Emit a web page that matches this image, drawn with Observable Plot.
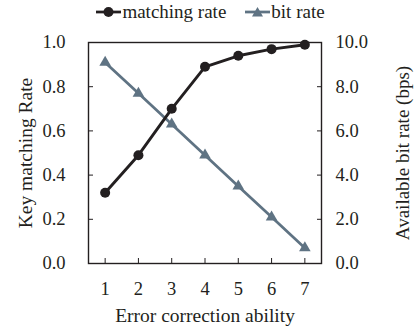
<!DOCTYPE html>
<html>
<head>
<meta charset="utf-8">
<script src="https://cdn.jsdelivr.net/npm/d3@7"></script>
<script src="https://cdn.jsdelivr.net/npm/@observablehq/plot@0.6"></script>
<style>
  body { margin: 0; background: #fff; font-family: "Liberation Serif", "Times New Roman", serif; }
  #chart { width: 417px; }
  .legend { height: 24px; display: flex; justify-content: center; align-items: center; gap: 19px; font-size: 19px; color: #231f20; padding-left: 4px; }
  .legend span { display: inline-flex; align-items: center; }
  .legend svg { margin-right: 1px; }
</style>
</head>
<body>
<div id="chart"></div>
<script>
// Error correction ability levels
const ability = [1, 2, 3, 4, 5, 6, 7];
// Key matching rate (left axis)
const matchingRate = [0.32, 0.49, 0.70, 0.89, 0.94, 0.97, 0.99];
// Available bit rate in bps (right axis)
const bitRate = [9.1, 7.7, 6.3, 4.9, 3.5, 2.1, 0.7];
// Axis ticks
const leftTicks = [0, 0.2, 0.4, 0.6, 0.8, 1.0];
const rightTicks = [0, 2, 4, 6, 8, 10];

const BLACK = "#231f20";
const SLATE = "#5f7383";
const RIGHT_MAX = 10;

const rows = ability.map((a, i) => ({ability: a, match: matchingRate[i], bit: bitRate[i]}));

const container = document.getElementById("chart");

// Legend row above the plot
const legend = document.createElement("div");
legend.className = "legend";
legend.innerHTML = `
  <span><svg width="25" height="12"><line x1="0" y1="6" x2="25" y2="6" stroke="${BLACK}" stroke-width="2.75"/><circle cx="12.5" cy="6" r="5" fill="${BLACK}"/></svg>matching rate</span>
  <span><svg width="25" height="12"><line x1="0" y1="6" x2="25" y2="6" stroke="${SLATE}" stroke-width="2.75"/><path d="M12.5,1L18,10.5L7,10.5Z" fill="${SLATE}"/></svg>bit rate</span>`;
container.appendChild(legend);

const chart = Plot.plot({
  width: 417,
  height: 305,
  marginTop: 18,
  marginBottom: 66,
  marginLeft: 88,
  marginRight: 96,
  style: {fontFamily: "Liberation Serif, Times New Roman, serif", fontSize: "18.5px", color: BLACK, background: "#fff"},
  x: {domain: [0.5, 7.5], label: null},
  y: {domain: [0, 1], label: null},
  marks: [
    Plot.frame({stroke: BLACK, strokeWidth: 1.4}),
    // tick marks point inward; labels sit outside the frame
    Plot.axisX({ticks: ability, tickSize: -5, tickPadding: 23, tickFormat: d => String(d), label: null}),
    Plot.axisX({ticks: [], label: "Error correction ability", labelAnchor: "center", labelOffset: 58,
      labelArrow: "none", fontSize: 19.5}),
    Plot.axisY({anchor: "left", ticks: leftTicks, tickSize: -5, tickPadding: 28, tickFormat: d => d.toFixed(1), label: null}),
    Plot.axisY({anchor: "left", ticks: [], label: "Key matching Rate", labelAnchor: "center", labelOffset: 70,
      labelArrow: "none", fontSize: 19.5}),
    Plot.axisY({anchor: "right", ticks: rightTicks.map(v => v / RIGHT_MAX), tickSize: -5, tickPadding: 19,
      tickFormat: d => (d * RIGHT_MAX).toFixed(1), label: null}),
    Plot.axisY({anchor: "right", ticks: [], label: "Available bit rate (bps)", labelAnchor: "center",
      labelOffset: 87, labelArrow: "none", fontSize: 19}),
    Plot.line(rows, {x: "ability", y: d => d.bit / RIGHT_MAX, stroke: SLATE, strokeWidth: 2.75}),
    Plot.dot(rows, {x: "ability", y: d => d.bit / RIGHT_MAX, symbol: "triangle", r: 4.3, fill: SLATE}),
    Plot.line(rows, {x: "ability", y: "match", stroke: BLACK, strokeWidth: 2.9}),
    Plot.dot(rows, {x: "ability", y: "match", r: 5, fill: BLACK})
  ]
});
container.appendChild(chart);
</script>
</body>
</html>
